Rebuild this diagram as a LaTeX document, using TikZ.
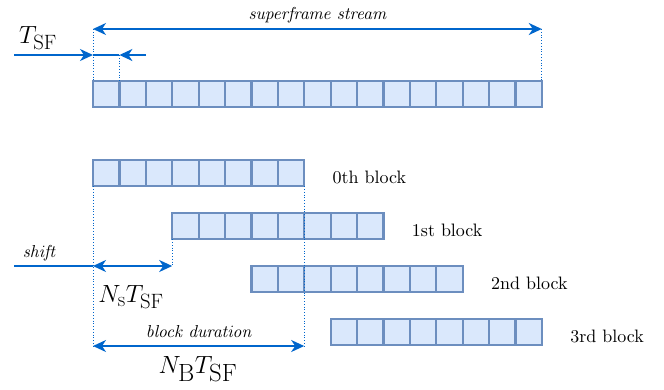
\documentclass[tikz,border=0pt]{standalone}
\usetikzlibrary{arrows.meta, positioning}
\definecolor{arrowblue}{HTML}{0066CC}
\definecolor{cellfill}{HTML}{DAE8FC}
\definecolor{celldraw}{HTML}{6C8EBF}
\DeclareMathSizes{27}{27}{22}{16}
\DeclareMathSizes{30}{30}{24.5}{18}
\font\lblfont=cmr10 at 18pt
\font\notefont=cmti10 at 17.3pt

\begin{document}
\begin{tikzpicture}[
  x=1pt, y=-1pt,
  cell/.style={draw=celldraw, fill=cellfill, line width=2.2pt,
    minimum width=26.4pt, minimum height=26.4pt, inner sep=0pt, outer sep=0pt},
  tip/.style={arrowblue, line width=2pt},
  dimarrow/.style={tip, -{Stealth[length=13pt,width=12pt,inset=4pt]}},
  dimboth/.style={tip, {Stealth[length=13pt,width=12pt,inset=4pt]}-{Stealth[length=13pt,width=12pt,inset=4pt]}},
  guide/.style={arrowblue, line width=0.8pt, dotted},
  lbl/.style={text=black, font=\lblfont},
  note/.style={text=black, font=\notefont},
  sym/.style={text=black, font=\fontsize{27}{30}\selectfont},
  bigsym/.style={text=black, font=\fontsize{30}{34}\selectfont}]

  \useasboundingbox (0,0) rectangle (664,389);

  % superframe stream
  \foreach \i in {0,...,16}
    \node[cell] (s\i) at (106.2+26.4*\i, 94) {};

  % blocks
  \foreach \k in {0,...,3}
    \foreach \i in {0,...,7}
      \node[cell] (b\k-\i) at (106.2+26.4*3*\k+26.4*\i, 173+53*\k) {};

  \node[lbl, right=25pt of b0-7, yshift=-4pt] (l0) {0th block};
  \node[lbl, right=25pt of b1-7, yshift=-4pt] (l1) {1st block};
  \node[lbl, right=25pt of b2-7, yshift=-4pt] (l2) {2nd block};
  \node[lbl, right=25pt of b3-7, yshift=-4pt] (l3) {3rd block};

  \coordinate (tl) at (s0.north west |- 0,29);
  \coordinate (tr) at (s16.north east |- 0,29);
  \draw[dimboth] (tl) -- (tr) node[midway, above=2pt, note] (ss) {superframe stream};
  \draw[guide] (tl) -- (s0.north west);
  \draw[guide] (tr) -- (s16.north east);

  \coordinate (ta) at (14,55);
  \coordinate (tb) at (s0.north west |- 0,55);
  \coordinate (tc) at (s1.north west |- 0,55);
  \coordinate (td) at (146,55);
  \draw[dimarrow] (ta) -- (tb);
  \draw[tip] (tb) -- (tc);
  \draw[dimarrow] (td) -- (tc);
  \draw[guide] (tc) -- (s1.north west);
  \node[sym] (tsf) at (38,38) {$T_{\mathrm{SF}}$};

  \coordinate (ha) at (14,266);
  \coordinate (hb) at (b0-0.south west |- 0,266);
  \coordinate (hc) at (b1-0.south west |- 0,266);
  \draw[tip] (ha) -- (hb);
  \draw[dimboth] (hb) -- (hc);
  \draw[guide] (b1-0.south west) -- (hc);
  \node[note] (sh) at (39,253) {shift};
  \node[sym] (ns) at (131,297) {$N_{\mathrm{s}}T_{\mathrm{SF}}$};

  \coordinate (da) at (b0-0.south west |- 0,346);
  \coordinate (db) at (b0-7.south east |- 0,346);
  \draw[guide] (b0-0.south west) -- (da);
  \draw[guide] (b0-7.south east) -- (db);
  \draw[dimboth] (da) -- (db) node[midway, above=4pt, note] (bd) {block duration};
  \node[bigsym] (nb) at (198,369) {$N_{\mathrm{B}}T_{\mathrm{SF}}$};
\end{tikzpicture}
\end{document}
